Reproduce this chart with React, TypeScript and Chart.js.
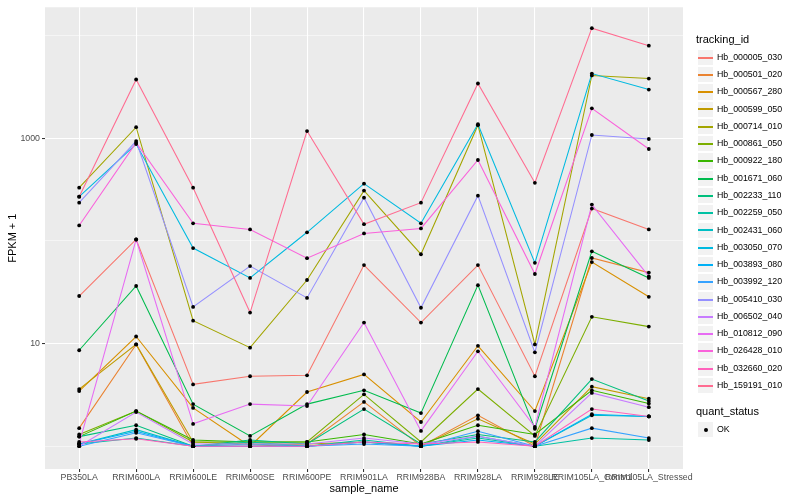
import { useEffect, useRef } from "react";
import { Chart, registerables } from "chart.js";

Chart.register(...registerables);

const FONT = "'Liberation Sans', Arial, Helvetica, sans-serif";

const sampleNames = [
  "PB350LA", "RRIM600LA", "RRIM600LE", "RRIM600SE", "RRIM600PE", "RRIM901LA",
  "RRIM928BA", "RRIM928LA", "RRIM928LE", "RRIM105LA_Control", "RRIM105LA_Stressed",
];

const trackingIds = [
  "Hb_000005_030", "Hb_000501_020", "Hb_000567_280", "Hb_000599_050", "Hb_000714_010",
  "Hb_000861_050", "Hb_000922_180", "Hb_001671_060", "Hb_002233_110", "Hb_002259_050",
  "Hb_002431_060", "Hb_003050_070", "Hb_003893_080", "Hb_003992_120", "Hb_005410_030",
  "Hb_006502_040", "Hb_010812_090", "Hb_026428_010", "Hb_032660_020", "Hb_159191_010",
];

const seriesColors = [
  "#F8766D", "#EA8331", "#D89000", "#C09B00", "#A3A500", "#7CAE00", "#39B600", "#00BB4E",
  "#00BF7D", "#00C1A3", "#00BFC4", "#00BAE0", "#00B0F6", "#35A2FF", "#9590FF", "#C77CFF",
  "#E76BF3", "#FA62DB", "#FF62BC", "#FF6C91",
];

// FPKM + 1 values, one per sample_name
const hb000005_030 = [29, 103, 4.0, 4.8, 4.9, 58, 16, 58, 4.8, 206, 129];
const hb000501_020 = [1.5, 9.8, 1.0, 1.0, 1.05, 2.7, 1.0, 2.0, 1.0, 68, 49];
const hb000567_280 = [3.44, 11.7, 2.36, 1.0, 3.37, 5.0, 1.72, 9.5, 2.2, 62, 28.5];
const hb000599_050 = [3.6, 9.8, 1.1, 1.05, 1.05, 1.1, 1.0, 1.85, 1.05, 3.8, 2.9];
const hb000714_010 = [329, 1276, 16.7, 9.1, 41.5, 308, 74, 1336, 9.8, 4070, 3800];
const hb000861_050 = [1.3, 2.2, 1.1, 1.1, 1.1, 3.2, 1.1, 3.6, 1.26, 18.2, 14.6];
const hb000922_180 = [1.24, 2.2, 1.15, 1.1, 1.1, 1.3, 1.05, 1.6, 1.3, 3.5, 2.6];
const hb001671_060 = [8.6, 36.3, 2.57, 1.26, 2.57, 3.5, 2.1, 37, 1.48, 79, 43.5];
const hb002233_110 = [1.24, 1.6, 1.0, 1.15, 1.05, 2.3, 1.05, 1.3, 1.1, 4.5, 2.75];
const hb002259_050 = [1.05, 1.2, 1.0, 1.1, 1.0, 1.15, 1.0, 1.2, 1.0, 1.2, 1.15];
const hb002431_060 = [1.05, 1.45, 1.0, 1.05, 1.0, 1.1, 1.0, 1.25, 1.0, 2.0, 1.95];
const hb003050_070 = [269, 875, 85, 43.5, 121, 360, 148, 1366, 61, 4250, 2970];
const hb003893_080 = [1.05, 1.4, 1.0, 1.0, 1.0, 1.1, 1.0, 1.15, 1.0, 2.05, 1.95];
const hb003992_120 = [1.0, 1.35, 1.0, 1.0, 1.0, 1.05, 1.0, 1.4, 1.0, 1.5, 1.2];
const hb005410_030 = [235, 935, 22.7, 56.8, 27.8, 263, 22.3, 275, 8.2, 1072, 980];
const hb006502_040 = [1.0, 2.15, 1.05, 1.05, 1.05, 1.2, 1.05, 1.25, 1.0, 3.3, 2.4];
const hb010812_090 = [1.06, 103, 1.65, 2.57, 2.46, 16, 1.41, 8.4, 1.54, 225, 45];
const hb026428_010 = [141, 900, 148, 129, 67.8, 118, 132, 612, 47.5, 1950, 783];
const hb032660_020 = [1.1, 1.18, 1.0, 1.0, 1.0, 1.1, 1.05, 1.1, 1.0, 2.3, 1.95];
const hb159191_010 = [269, 3720, 329, 20, 1170, 145, 235, 3400, 367, 11750, 7940];

const seriesValues = [
  hb000005_030, hb000501_020, hb000567_280, hb000599_050, hb000714_010,
  hb000861_050, hb000922_180, hb001671_060, hb002233_110, hb002259_050,
  hb002431_060, hb003050_070, hb003893_080, hb003992_120, hb005410_030,
  hb006502_040, hb010812_090, hb026428_010, hb032660_020, hb159191_010,
];

const yTickValues = [1, 10, 100, 1000, 10000];
const yLabelledTicks = [10, 1000];
const quantStatus = ["OK"];

const panelBg = {
  id: "panelBg",
  beforeDraw(chart: any) {
    const { ctx, chartArea: a } = chart;
    ctx.save();
    ctx.fillStyle = "#EBEBEB";
    ctx.fillRect(a.left, a.top, a.right - a.left, a.bottom - a.top);
    ctx.restore();
  },
};

export default function App() {
  const ref = useRef<HTMLCanvasElement | null>(null);

  useEffect(() => {
    if (!ref.current) return;
    const n = seriesValues.length;
    const datasets: any[] = seriesValues.map((vals, s) => ({
      label: trackingIds[s],
      data: vals.map((v, i) => ({ x: i, y: v })),
      borderColor: seriesColors[s],
      backgroundColor: seriesColors[s],
      borderWidth: 1.07,
      pointRadius: 0,
      tension: 0,
      order: n - s,
    }));
    datasets.push({
      label: quantStatus[0],
      data: seriesValues.flatMap((vals) => vals.map((v, i) => ({ x: i, y: v }))),
      showLine: false,
      pointRadius: 1.9,
      pointBackgroundColor: "#000000",
      pointBorderWidth: 0,
      borderColor: "#000000",
      order: 0,
    });

    const logMin = 0;
    const logMax = Math.log10(Math.max(...seriesValues.flat()));
    const exp = (logMax - logMin) * 0.05;

    const chart = new Chart(ref.current, {
      type: "line",
      data: { datasets },
      plugins: [panelBg],
      options: {
        animation: false,
        responsive: false,
        maintainAspectRatio: false,
        layout: { padding: { top: 5, right: 117, bottom: 0, left: 0 } },
        plugins: { legend: { display: false }, tooltip: { enabled: false } },
        scales: {
          x: {
            type: "linear",
            min: -0.6,
            max: sampleNames.length - 1 + 0.6,
            afterBuildTicks: (scale: any) => {
              scale.ticks = sampleNames.map((_, i) => ({ value: i }));
            },
            afterFit: (scale: any) => {
              scale.height = 31;
              scale.paddingLeft = 0;
              scale.paddingRight = 0;
            },
            border: { display: false },
            grid: {
              color: "#FFFFFF",
              lineWidth: 1.07,
              tickColor: "#333333",
              tickLength: 3,
              tickWidth: 1.07,
            },
            ticks: {
              autoSkip: false,
              maxRotation: 0,
              minRotation: 0,
              padding: 0,
              color: "#4D4D4D",
              font: { family: FONT, size: 8.8 },
              callback: (v: any) => sampleNames[Math.round(Number(v))] ?? "",
            },
            title: {
              display: true,
              text: "sample_name",
              color: "#000000",
              font: { family: FONT, size: 11 },
              padding: { top: 0, bottom: 4.4 },
            },
          },
          y: {
            type: "logarithmic",
            min: Math.pow(10, logMin - exp),
            max: Math.pow(10, logMax + exp),
            afterBuildTicks: (scale: any) => {
              scale.ticks = yTickValues.map((v) => ({ value: v }));
            },
            afterFit: (scale: any) => {
              scale.width = 45;
            },
            border: { display: false },
            grid: {
              color: "#FFFFFF",
              lineWidth: (c: any) => (yLabelledTicks.includes(c.tick?.value) ? 1.07 : 0.53),
              tickColor: (c: any) => (yLabelledTicks.includes(c.tick?.value) ? "#333333" : "rgba(0,0,0,0)"),
              tickLength: 3,
              tickWidth: 1.07,
            },
            ticks: {
              padding: 2,
              color: "#4D4D4D",
              font: { family: FONT, size: 8.8 },
              autoSkip: false,
              callback: (v: any) => (yLabelledTicks.includes(Number(v)) ? String(v) : ""),
            },
            title: {
              display: true,
              text: "FPKM + 1",
              color: "#000000",
              font: { family: FONT, size: 11 },
              padding: { top: 6.4, bottom: 0 },
            },
          },
        },
      } as any,
    });
    return () => chart.destroy();
  }, []);

  const keyTop = 48.7;
  const keyH = 17.28;

  return (
    <div
      style={{
        position: "absolute",
        left: 0,
        top: 0,
        width: 800,
        height: 500,
        background: "#FFFFFF",
        fontFamily: FONT,
        overflow: "hidden",
      }}
    >
      <canvas ref={ref} width={800} height={500} style={{ position: "absolute", left: 0, top: 0, width: 800, height: 500 }} />
      <div style={{ position: "absolute", left: 696, top: 32.9, fontSize: 11, lineHeight: "13.2px", color: "#000", whiteSpace: "nowrap" }}>
        tracking_id
      </div>
      {trackingIds.map((id, k) => {
        const top = keyTop + keyH * k;
        const lineTop = Math.round(top + keyH / 2 - 0.75);
        return (
          <div key={id}>
            <div
              style={{
                position: "absolute",
                left: 696.5,
                top,
                width: keyH,
                height: keyH,
                boxSizing: "border-box",
                background: "#F2F2F2",
                border: "0.8px solid #FFFFFF",
              }}
            />
            <div
              style={{
                position: "absolute",
                left: 698,
                width: 14.5,
                top: lineTop,
                height: 1.5,
                background: seriesColors[k],
              }}
            />
            <div
              style={{
                position: "absolute",
                left: 717,
                top,
                height: keyH,
                lineHeight: keyH + "px",
                fontSize: 8.8,
                color: "#000",
                whiteSpace: "nowrap",
              }}
            >
              {id}
            </div>
          </div>
        );
      })}
      <div style={{ position: "absolute", left: 696, top: 404.9, fontSize: 11, lineHeight: "13.2px", color: "#000", whiteSpace: "nowrap" }}>
        quant_status
      </div>
      {quantStatus.map((q, k) => (
        <div key={q}>
          <div
            style={{
              position: "absolute",
              left: 696.5,
              top: 421 + keyH * k,
              width: keyH,
              height: keyH,
              boxSizing: "border-box",
              background: "#F2F2F2",
              border: "0.8px solid #FFFFFF",
            }}
          >
            <div
              style={{
                position: "absolute",
                left: keyH / 2 - 2.2,
                top: keyH / 2 - 2.2,
                width: 3.8,
                height: 3.8,
                borderRadius: "50%",
                background: "#000",
              }}
            />
          </div>
          <div
            style={{
              position: "absolute",
              left: 717,
              top: 421 + keyH * k,
              height: keyH,
              lineHeight: keyH + "px",
              fontSize: 8.8,
              color: "#000",
              whiteSpace: "nowrap",
            }}
          >
            {q}
          </div>
        </div>
      ))}
    </div>
  );
}
